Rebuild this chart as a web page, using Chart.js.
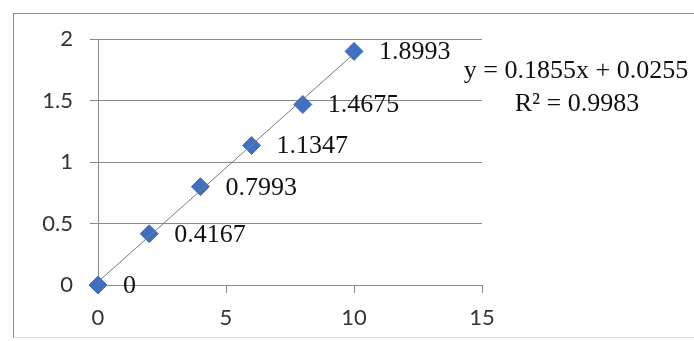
<!DOCTYPE html>
<html>
<head>
<meta charset="utf-8">
<script src="https://cdn.jsdelivr.net/npm/chart.js@4/dist/chart.umd.min.js"></script>
<style>
  html, body { margin: 0; padding: 0; background: #fff; }
  #wrap { position: relative; width: 694px; height: 341px; overflow: hidden; }
  #frame { position: absolute; left: 13px; top: 13px; width: 720px; height: 323px;
           border: 1px solid #8c8c8c; border-bottom-color: #d9d9d9; }
  canvas { position: absolute; left: 0; top: 0; }
</style>
</head>
<body>
<div id="wrap">
  <div id="frame"></div>
  <canvas id="chart" width="694" height="341"></canvas>
</div>
<script>
// 측정값 (x: 농도, y: 흡광도)
const xValues = [0, 2, 4, 6, 8, 10];
const yValues = [0, 0.4167, 0.7993, 1.1347, 1.4675, 1.8993];

// 추세선 끝점 (y = 0.1855x + 0.0255)
const trendX = [0, 10];
const trendY = [0.0255, 1.8805];

const xTicks = [0, 5, 10, 15];
const yTicks = [0, 0.5, 1, 1.5, 2];

const equationLines = ['y = 0.1855x + 0.0255', 'R\u00b2 = 0.9983'];

const GRID = '#8a8a8a';
const MARK = '#3f6fc3';

// 점 옆 값 라벨 + 추세선 식
const labelPlugin = {
    id: 'labels',
    afterDatasetsDraw(chart) {
        const ctx = chart.ctx;
        const meta = chart.getDatasetMeta(1);
        ctx.save();
        ctx.fillStyle = '#111';
        ctx.font = '26px "Liberation Serif", serif';
        ctx.textAlign = 'left';
        ctx.textBaseline = 'middle';
        meta.data.forEach((pt, i) => {
            ctx.fillText(String(yValues[i]), pt.x + 25, pt.y + 1);
        });
        ctx.textAlign = 'center';
        ctx.fillText(equationLines[0], 576, 71);
        ctx.fillText(equationLines[1], 577, 104);
        ctx.restore();
    }
};

new Chart(document.getElementById('chart'), {
    type: 'scatter',
    data: {
        datasets: [
            {
                type: 'line',
                data: trendX.map((x, i) => ({ x, y: trendY[i] })),
                borderColor: '#7a7a7a',
                borderWidth: 1,
                pointRadius: 0,
                fill: false
            },
            {
                data: xValues.map((x, i) => ({ x, y: yValues[i] })),
                pointStyle: 'rectRot',
                pointRadius: 9,
                backgroundColor: MARK,
                borderColor: MARK,
                borderWidth: 1,
                clip: false
            }
        ]
    },
    options: {
        responsive: false,
        animation: false,
        events: [],
        layout: { padding: { left: 0, top: 39, right: 212, bottom: 0 } },
        plugins: { legend: { display: false }, tooltip: { enabled: false } },
        scales: {
            x: {
                type: 'linear',
                min: 0, max: 15,
                afterBuildTicks: s => { s.ticks = xTicks.map(v => ({ value: v })); },
                afterFit: s => { s.height = 56; },
                grid: { drawOnChartArea: false, drawTicks: true, tickLength: 8, color: GRID },
                border: { color: GRID },
                ticks: { padding: 12, color: '#333', font: { family: 'Lato', size: 22 },
                         callback: v => String(v) }
            },
            y: {
                min: 0, max: 2,
                afterBuildTicks: s => { s.ticks = yTicks.map(v => ({ value: v })); },
                afterFit: s => { s.width = 98; },
                grid: { color: GRID, tickLength: 8 },
                border: { color: GRID },
                ticks: { padding: 17, color: '#333', font: { family: 'Lato', size: 22 },
                         callback: v => String(v) }
            }
        }
    },
    plugins: [labelPlugin]
});
</script>
</body>
</html>
